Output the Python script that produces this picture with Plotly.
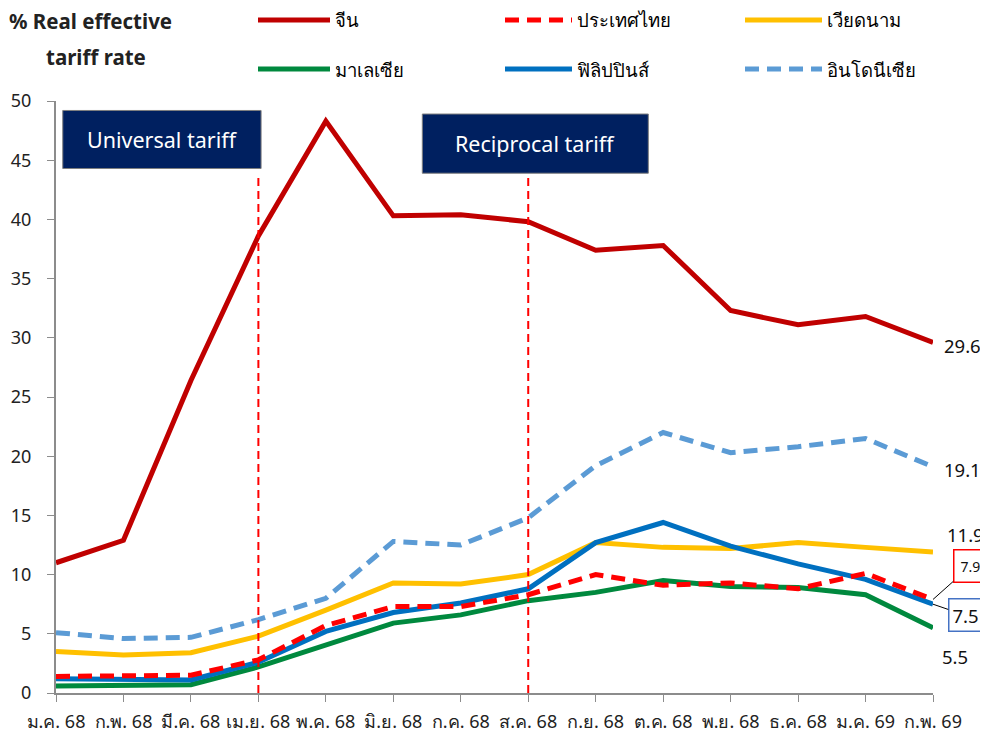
import plotly.graph_objects as go

# เดือน (แกน x)
months = ["ม.ค. 68", "ก.พ. 68", "มี.ค. 68", "เม.ย. 68", "พ.ค. 68", "มิ.ย. 68", "ก.ค. 68",
          "ส.ค. 68", "ก.ย. 68", "ต.ค. 68", "พ.ย. 68", "ธ.ค. 68", "ม.ค. 69", "ก.พ. 69"]

china = [11.0, 12.9, 26.4, 38.6, 48.3, 40.3, 40.4, 39.8, 37.4, 37.8, 32.3, 31.1, 31.8, 29.6]
thailand = [1.4, 1.4, 1.5, 2.8, 5.7, 7.3, 7.3, 8.3, 10.0, 9.1, 9.3, 8.8, 10.1, 7.9]
vietnam = [3.5, 3.2, 3.4, 4.8, 7.0, 9.3, 9.2, 10.0, 12.7, 12.3, 12.2, 12.7, 12.3, 11.9]
malaysia = [0.6, 0.6, 0.7, 2.2, 4.0, 5.9, 6.6, 7.8, 8.5, 9.5, 9.0, 8.9, 8.3, 5.5]
philippines = [1.2, 1.1, 1.1, 2.6, 5.2, 6.8, 7.6, 8.8, 12.7, 14.4, 12.4, 10.9, 9.6, 7.5]
indonesia = [5.1, 4.6, 4.7, 6.2, 8.0, 12.8, 12.5, 14.8, 19.2, 22.0, 20.3, 20.8, 21.5, 19.1]

y_ticks = [0, 5, 10, 15, 20, 25, 30, 35, 40, 45, 50]

# ชื่อ, ข้อมูล, สี, เส้นประ, ตำแหน่งคำอธิบาย (คอลัมน์, แถว)
series = [
    ("จีน", china, "#C00000", "solid", 0, 0),
    ("ประเทศไทย", thailand, "#FF0000", "14px,8px", 1, 0),
    ("เวียดนาม", vietnam, "#FFC000", "solid", 2, 0),
    ("มาเลเซีย", malaysia, "#00893E", "solid", 0, 1),
    ("ฟิลิปปินส์", philippines, "#0070C0", "solid", 1, 1),
    ("อินโดนีเซีย", indonesia, "#5B9BD5", "14px,8px", 2, 1),
]

FONT = "Tahoma, Noto Sans, DejaVu Sans, sans-serif"
# หน้า html มีขอบ body 8px จึงลดขนาดรูปให้พอดีหน้าจอ
OFF = 8
W, H = 988 - OFF, 736 - OFF
ML, MR, MT, MB = 48, 55, 93, 43
PW, PH = W - ML - MR, H - MT - MB


def px(x):
    # พิกัดพิกเซลของภาพต้นแบบ -> paper x
    return (x - OFF - ML) / PW


def py(y):
    return (H - MB - (y - OFF)) / PH


x_idx = list(range(len(months)))

fig = go.Figure()
# วาดลำดับให้เส้นจีนอยู่บนสุด
draw_order = [5, 2, 3, 4, 1, 0]
for i in draw_order:
    name, vals, color, dash, _, _ = series[i]
    fig.add_trace(go.Scatter(
        x=x_idx, y=vals, mode="lines", name=name,
        line=dict(color=color, width=5, dash=dash),
        showlegend=False,
        hovertemplate="%{y:.1f}<extra>" + name + "</extra>",
    ))

shapes = []
annotations = []

# เส้นแบ่งช่วงนโยบาย
for xv in [3, 7]:
    shapes.append(dict(type="line", xref="x", yref="y", x0=xv, x1=xv, y0=0, y1=43.6,
                       line=dict(color="#FF0000", width=2, dash="8px,5px")))

# กล่องข้อความ
boxes = [("Universal tariff", 0.1, 3.04, 44.3, 49.2),
         ("Reciprocal tariff", 5.43, 8.78, 43.9, 48.9)]
for text, x0, x1, y0, y1 in boxes:
    shapes.append(dict(type="rect", xref="x", yref="y", x0=x0, x1=x1, y0=y0, y1=y1,
                       fillcolor="#002060", line=dict(color="#7F7F7F", width=1)))
    annotations.append(dict(x=(x0 + x1) / 2, y=(y0 + y1) / 2, xref="x", yref="y",
                            text=text, showarrow=False,
                            font=dict(size=21.5, color="white", family=FONT)))

# คำอธิบายสัญลักษณ์ (วาดเอง)
col_x = [(258, 330), (505, 572), (745, 822)]
row_y = [20, 69]
for name, vals, color, dash, c, r in series:
    lx0, lx1 = col_x[c]
    ly = row_y[r]
    shapes.append(dict(type="line", xref="paper", yref="paper",
                       x0=px(lx0), x1=px(lx1), y0=py(ly), y1=py(ly),
                       line=dict(color=color, width=5, dash=dash)))
    annotations.append(dict(x=px(lx1 + 3), y=py(ly),
                            xref="paper", yref="paper", text=name, showarrow=False,
                            xanchor="left", yanchor="middle",
                            font=dict(size=18.5, color="#000", family=FONT)))

# ชื่อแกน
annotations.append(dict(x=px(7), y=py(21), xref="paper", yref="paper",
                        text="<b>% Real effective</b>", showarrow=False,
                        xanchor="left", yanchor="middle",
                        font=dict(size=20.5, color="#222", family=FONT)))
annotations.append(dict(x=px(44), y=py(57), xref="paper", yref="paper",
                        text="<b>tariff rate</b>", showarrow=False,
                        xanchor="left", yanchor="middle",
                        font=dict(size=20.5, color="#222", family=FONT)))

# ค่าสุดท้าย
last = len(months) - 1
end_labels = [(china[-1], 9, -3), (indonesia[-1], 9, -3),
              (vietnam[-1], 12, 18), (malaysia[-1], 7, -29)]
for v, xs, ys in end_labels:
    annotations.append(dict(x=last, y=v, xref="x", yref="y", text=f"{v:.1f}",
                            showarrow=False, xanchor="left", xshift=xs, yshift=ys,
                            font=dict(size=18.5, color="#111", family=FONT)))

# ไทย และ ฟิลิปปินส์ มีกล่องและเส้นชี้
annotations.append(dict(x=last, y=thailand[-1], xref="x", yref="y", text=f"{thailand[-1]:.1f}",
                        showarrow=True, arrowhead=0, arrowwidth=1, arrowcolor="#000",
                        ax=37, ay=-33, standoff=0,
                        bordercolor="#FF0000", borderwidth=1.5, borderpad=6, bgcolor="white",
                        font=dict(size=14, color="#111", family=FONT)))
annotations.append(dict(x=last, y=philippines[-1], xref="x", yref="y", text=f"{philippines[-1]:.1f}",
                        showarrow=True, arrowhead=0, arrowwidth=1, arrowcolor="#000",
                        ax=32, ay=11, standoff=0,
                        bordercolor="#4472C4", borderwidth=1.5, borderpad=3, bgcolor="white",
                        font=dict(size=18.5, color="#111", family=FONT)))

fig.update_layout(
    width=W, height=H,
    margin=dict(l=ML, r=MR, t=MT, b=MB),
    paper_bgcolor="white", plot_bgcolor="white",
    xaxis=dict(
        range=[0, last], tickvals=x_idx, ticktext=months, automargin=False,
        showline=True, linecolor="#8C8C8C", linewidth=2,
        ticks="outside", ticklen=7, tickcolor="#8C8C8C", tickwidth=1,
        showgrid=False, zeroline=False, ticklabelstandoff=4,
        tickfont=dict(size=18, color="#222", family=FONT),
    ),
    yaxis=dict(
        range=[0, 50], tickvals=y_ticks, automargin=False,
        showline=True, linecolor="#8C8C8C", linewidth=2,
        ticks="outside", ticklen=7, tickcolor="#8C8C8C", tickwidth=1,
        showgrid=False, zeroline=False, ticklabelstandoff=12,
        tickfont=dict(size=18, color="#222", family=FONT),
    ),
    shapes=shapes,
    annotations=annotations,
    showlegend=False,
)

fig.write_html("out.html")
